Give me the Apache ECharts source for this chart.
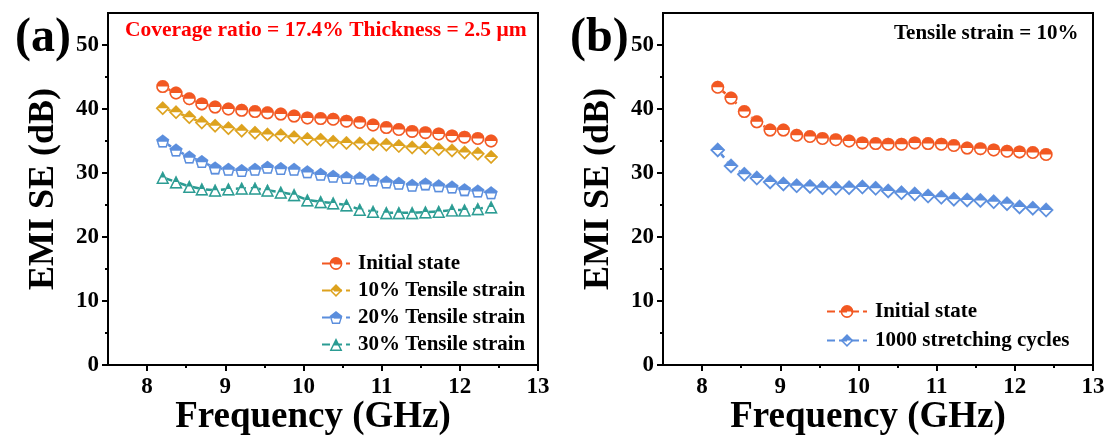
<!DOCTYPE html>
<html>
<head>
<meta charset="utf-8">
<script src="https://cdn.jsdelivr.net/npm/echarts@6/dist/echarts.min.js"></script>
<style>
  html, body { margin: 0; padding: 0; background: #fff; }
  #chart { width: 1106px; height: 436px; }
</style>
</head>
<body>
<div id="chart"></div>
<script>
// frequency points (GHz), same for both panels
var freq = [8.20, 8.37, 8.54, 8.70, 8.87, 9.04, 9.21, 9.38, 9.54, 9.71, 9.88, 10.05, 10.22,
            10.38, 10.55, 10.72, 10.89, 11.06, 11.22, 11.39, 11.56, 11.73, 11.90, 12.06, 12.23, 12.40];

// panel (a)
var initialA = [43.5, 42.5, 41.6, 40.8, 40.3, 40.0, 39.8, 39.6, 39.4, 39.2, 38.9, 38.6, 38.5,
                38.4, 38.1, 37.9, 37.5, 37.1, 36.8, 36.5, 36.3, 36.1, 35.8, 35.6, 35.4, 35.0];
var strain10 = [40.1, 39.5, 38.7, 37.9, 37.4, 37.0, 36.6, 36.3, 36.0, 35.9, 35.6, 35.3, 35.2,
                34.9, 34.7, 34.6, 34.5, 34.4, 34.2, 34.0, 33.9, 33.7, 33.5, 33.2, 33.0, 32.5];
var strain20 = [35.0, 33.6, 32.5, 31.8, 30.8, 30.6, 30.4, 30.6, 30.9, 30.7, 30.6, 30.2, 29.8,
                29.5, 29.3, 29.2, 28.9, 28.6, 28.4, 28.1, 28.3, 28.0, 27.8, 27.4, 27.2, 26.9];
var strain30 = [29.3, 28.6, 27.9, 27.5, 27.3, 27.5, 27.6, 27.6, 27.3, 27.0, 26.6, 25.8, 25.5,
                25.3, 25.0, 24.3, 24.0, 23.8, 23.8, 23.8, 23.9, 24.0, 24.2, 24.2, 24.4, 24.7];

// panel (b)
var initialB = [43.4, 41.7, 39.6, 38.0, 36.7, 36.7, 35.9, 35.7, 35.4, 35.2, 35.0, 34.7, 34.6,
                34.5, 34.5, 34.7, 34.6, 34.5, 34.3, 33.9, 33.8, 33.6, 33.4, 33.3, 33.2, 32.9];
var cycles1000 = [33.6, 31.1, 29.8, 29.2, 28.6, 28.3, 28.0, 27.9, 27.7, 27.6, 27.7, 27.8, 27.6,
                  27.2, 26.9, 26.7, 26.4, 26.2, 25.9, 25.8, 25.7, 25.5, 25.2, 24.7, 24.5, 24.2];

// ticks
var xMajor = [8, 9, 10, 11, 12, 13];
var xMinor = [8.5, 9.5, 10.5, 11.5, 12.5];
var yMajor = [0, 10, 20, 30, 40, 50];
var yMinor = [5, 15, 25, 35, 45];

var FONT = "'Liberation Serif', 'Times New Roman', serif";
var RED = '#F25822', GOLD = '#DDA21E', BLUE = '#5B8EDD', TEAL = '#2B9C93';

// half filled markers: top half solid, bottom half as an outline band
var HALF = {
    circle: 'path://M0 10A10 10 0 0 1 20 10Z M20 10A10 10 0 0 1 0 10L2.4 10A7.6 7.6 0 0 0 17.6 10Z',
    diamond: 'path://M0 10L10 0L20 10Z M20 10L10 20L0 10L3.2 10L10 16.8L16.8 10Z',
    pentagon: 'path://M10 0L20 7.27L18.95 10.5L1.05 10.5L0 7.27Z M18.95 10.5L16.18 19.02L3.82 19.02L1.05 10.5L3.3 10.5L5.4 16.8L14.6 16.8L16.7 10.5Z',
    triangle: 'path://M10 0L15 10L5 10Z M5 10L0 20L20 20L15 10L12.5 10L16.4 17.7L3.6 17.7L7.5 10Z'
};
var FULL = {
    circle: 'circle',
    diamond: 'diamond',
    pentagon: 'path://M10 0L20 7.27L16.18 19.02L3.82 19.02L0 7.27Z',
    triangle: 'triangle'
};

function pairs(vals) {
    return freq.map(function (f, i) { return [f, vals[i]]; });
}

function makeSeries(name, vals, color, shape, size, axis) {
    var data = pairs(vals);
    return [{
        name: name,
        type: 'line',
        xAxisIndex: axis, yAxisIndex: axis,
        data: data,
        symbol: HALF[shape],
        symbolSize: size,
        itemStyle: { color: color },
        lineStyle: { color: color, width: 2.5, type: 'dashed' },
        z: 2
    }, {
        name: name + '_mask',
        type: 'line',
        xAxisIndex: axis, yAxisIndex: axis,
        data: data,
        symbol: FULL[shape],
        symbolSize: size,
        itemStyle: { color: '#fff' },
        lineStyle: { opacity: 0 },
        silent: true,
        z: 3
    }, {
        name: name + '_top',
        type: 'line',
        xAxisIndex: axis, yAxisIndex: axis,
        data: data,
        symbol: HALF[shape],
        symbolSize: size,
        itemStyle: { color: color },
        lineStyle: { opacity: 0 },
        silent: true,
        z: 4
    }];
}

function xAxes(grid) {
    return [{
        gridIndex: grid, type: 'value', position: 'bottom',
        min: 7.5, max: 13, interval: 0.5,
        axisLine: { lineStyle: { color: '#000', width: 2 } },
        axisTick: { customValues: xMajor, length: 6, lineStyle: { color: '#000', width: 2 } },
        axisLabel: {
            customValues: xMajor, margin: 11, color: '#000',
            fontFamily: FONT, fontWeight: 'bold', fontSize: 23,
            formatter: function (v) { return (v % 1 === 0 && v >= 8) ? v : ''; }
        },
        splitLine: { show: false },
        name: 'Frequency (GHz)', nameLocation: 'middle', nameGap: 34, nameMoveOverlap: false,
        nameTextStyle: { color: '#000', fontFamily: FONT, fontWeight: 'bold', fontSize: 37, padding: [0, 20, 0, 0] }
    }, {
        gridIndex: grid, type: 'value', position: 'bottom',
        min: 7.5, max: 13, interval: 0.5,
        axisLine: { show: false },
        axisTick: { customValues: xMinor, length: 3, lineStyle: { color: '#000', width: 2 } },
        axisLabel: { show: false },
        splitLine: { show: false }
    }];
}

function yAxes(grid) {
    return [{
        gridIndex: grid, type: 'value', position: 'left',
        min: 0, max: 55, interval: 10,
        axisLine: { show: true, lineStyle: { color: '#000', width: 2 } },
        axisTick: { show: true, customValues: yMajor, length: 6, lineStyle: { color: '#000', width: 2 } },
        axisLabel: {
            customValues: yMajor, margin: 9, color: '#000',
            fontFamily: FONT, fontWeight: 'bold', fontSize: 23,
            formatter: function (v) { return v % 10 === 0 && v <= 50 ? v : ''; }
        },
        splitLine: { show: false },
        name: 'EMI SE (dB)', nameLocation: 'middle', nameGap: 46,
        nameTextStyle: { color: '#000', fontFamily: FONT, fontWeight: 'bold', fontSize: 36 }
    }, {
        gridIndex: grid, type: 'value', position: 'left',
        min: 0, max: 55, interval: 10,
        axisLine: { show: false },
        axisTick: { show: true, customValues: yMinor, length: 3, lineStyle: { color: '#000', width: 2 } },
        axisLabel: { show: false },
        splitLine: { show: false }
    }];
}

var series = [].concat(
    makeSeries('Initial state', initialA, RED, 'circle', 13, 0),
    makeSeries('10% Tensile strain', strain10, GOLD, 'diamond', 14, 0),
    makeSeries('20% Tensile strain', strain20, BLUE, 'pentagon', 13, 0),
    makeSeries('30% Tensile strain', strain30, TEAL, 'triangle', 13, 0),
    makeSeries('Initial state ', initialB, RED, 'circle', 13, 2),
    makeSeries('1000 stretching cycles', cycles1000, BLUE, 'diamond', 15, 2)
);

var legendText = { color: '#000', fontFamily: FONT, fontWeight: 'bold', fontSize: 21, padding: [0, 0, 0, 3] };

var myChart = echarts.init(document.getElementById('chart'), null, { renderer: 'canvas' });
var option = {
    animation: false,
    backgroundColor: '#fff',
    title: [{
        text: '(a)', left: 10, top: 10,
        textStyle: { fontFamily: FONT, fontWeight: 'bold', fontSize: 48, color: '#000' }
    }, {
        text: '(b)', left: 565, top: 10,
        textStyle: { fontFamily: FONT, fontWeight: 'bold', fontSize: 48, color: '#000' }
    }, {
        text: 'Coverage ratio = 17.4% Thickness = 2.5 μm', left: 125, top: 19, padding: 0,
        textStyle: { fontFamily: FONT, fontWeight: 'bold', fontSize: 21.5, color: '#FF0000' }
    }, {
        text: 'Tensile strain = 10%', left: 894, top: 23, padding: 0,
        textStyle: { fontFamily: FONT, fontWeight: 'bold', fontSize: 21, color: '#000' }
    }],
    grid: [
        { left: 108, top: 13, width: 430, height: 352, outerBoundsMode: 'none', show: true, borderColor: '#000', borderWidth: 2 },
        { left: 663, top: 13, width: 430, height: 352, outerBoundsMode: 'none', show: true, borderColor: '#000', borderWidth: 2 }
    ],
    xAxis: xAxes(0).concat(xAxes(1)),
    yAxis: yAxes(0).concat(yAxes(1)),
    legend: [{
        orient: 'vertical', left: 321, top: 253, padding: 0,
        itemWidth: 28, itemHeight: 16, itemGap: 6,
        data: ['Initial state', '10% Tensile strain', '20% Tensile strain', '30% Tensile strain'],
        textStyle: legendText
    }, {
        orient: 'vertical', left: 826, top: 301, padding: 0,
        itemWidth: 40, itemHeight: 16, itemGap: 8,
        data: ['Initial state ', '1000 stretching cycles'],
        textStyle: legendText
    }],
    series: series
};
myChart.setOption(option);
</script>
</body>
</html>
